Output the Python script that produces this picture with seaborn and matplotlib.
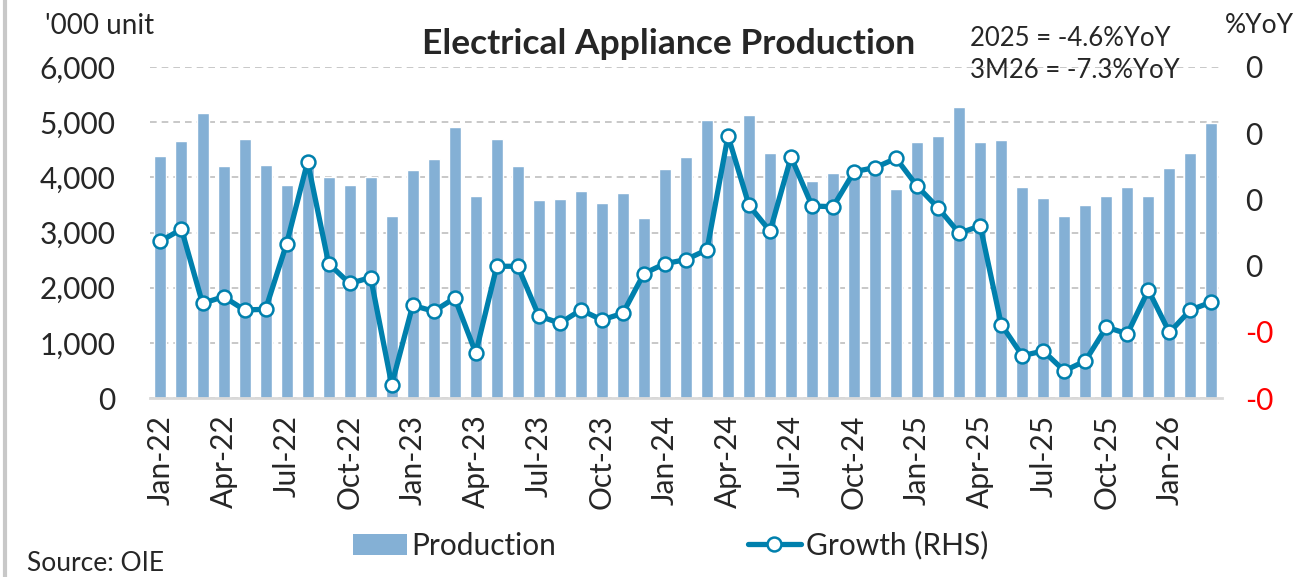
import seaborn as sns
from matplotlib import pyplot as plt
from matplotlib.lines import Line2D
from matplotlib.patches import Patch
import pandas as pd
import numpy as np

sns.set_theme(style='white')
plt.rcParams['font.family'] = ['Lato', 'DejaVu Sans']

months = pd.date_range('2022-01-01', periods=51, freq='MS').strftime('%b-%y').tolist()

production = [4390, 4650, 5160, 4210, 4700, 4225, 3870, 4250, 4010, 3855, 4010, 3300,
              4130, 4335, 4910, 3655, 4695, 4210, 3585, 3610, 3745, 3535, 3715, 3265,
              4145, 4370, 5035, 4400, 5125, 4440, 4300, 3935, 4075, 4150, 4070, 3795,
              4645, 4755, 5280, 4635, 4670, 3830, 3630, 3305, 3495, 3660, 3830, 3655,
              4175, 4435, 4985]

growth = [0.037, 0.055, -0.057, -0.047, -0.067, -0.066, 0.033, 0.157, 0.003, -0.027, -0.018, -0.180,
          -0.060, -0.069, -0.049, -0.132, -0.001, -0.001, -0.076, -0.087, -0.067, -0.082, -0.072, -0.012,
          0.003, 0.009, 0.024, 0.196, 0.091, 0.052, 0.164, 0.090, 0.089, 0.142, 0.148, 0.162,
          0.120, 0.087, 0.049, 0.060, -0.089, -0.136, -0.129, -0.159, -0.144, -0.093, -0.103, -0.037,
          -0.101, -0.067, -0.055]

left_ticks = [0, 1000, 2000, 3000, 4000, 5000, 6000]
right_ticks = [-0.2, -0.1, 0.0, 0.1, 0.2, 0.3]
right_labels = ['-0', '-0', '0', '0', '0', '0']

bar_color = '#84b0d5'
line_color = '#0080ad'

df = pd.DataFrame({'month': months, 'production': production, 'growth': growth,
                   'pos': np.arange(len(months))})

fig = plt.figure(figsize=(12.95, 5.77), dpi=100)
ax = fig.add_axes([0.1158, 0.3102, 0.8278, 0.5737])

sns.barplot(x='month', y='production', data=df, color=bar_color, width=0.57,
            saturation=1, ax=ax)
ax.set_ylim(0, 6000)
ax.set_yticks(left_ticks)
ax.set_yticklabels([f'{v:,}' for v in left_ticks])
ax.yaxis.grid(True, color='#bfbfbf', linestyle=(0, (4, 3)), linewidth=1.2)
ax.set_axisbelow(True)
ax.set_xlabel('')
ax.set_ylabel('')
ax.set_xticks(range(0, len(months), 3))
ax.set_xticklabels(months[::3], rotation=90)
ax.tick_params(axis='x', length=0, pad=12, labelsize=21.5)
ax.tick_params(axis='y', length=0, pad=25, labelsize=21.5)
for s in ['top', 'right', 'left']:
    ax.spines[s].set_visible(False)
ax.spines['bottom'].set_color('#d9d9d9')
ax.spines['bottom'].set_linewidth(2)

ax2 = ax.twinx()
sns.lineplot(x='pos', y='growth', data=df, color=line_color, linewidth=3.8,
             marker='o', markersize=10, markerfacecolor='white',
             markeredgecolor=line_color, markeredgewidth=1.8, ax=ax2)
ax2.set_xlim(-0.5, len(months) - 0.5)
ax2.set_ylim(-0.2, 0.3)
ax2.set_yticks(right_ticks)
ax2.set_yticklabels(right_labels)
ax2.set_xlabel('')
ax2.set_ylabel('')
ax2.tick_params(axis='y', length=0, pad=17, labelsize=21.5)
for lbl, v in zip(ax2.get_yticklabels(), right_ticks):
    if v < 0:
        lbl.set_color('red')
for s in ['top', 'right', 'left', 'bottom']:
    ax2.spines[s].set_visible(False)
ax2.grid(False)

fig.text(0.516, 0.924, 'Electrical Appliance Production', ha='center', va='center',
         fontsize=25.5, fontweight='bold')
fig.text(0.035, 0.955, "'000 unit", ha='left', va='center', fontsize=20)
fig.text(0.946, 0.955, '%YoY', ha='left', va='center', fontsize=19)
fig.text(0.749, 0.934, '2025 = -4.6%YoY', ha='left', va='center', fontsize=18.5)
fig.text(0.749, 0.878, '3M26 = -7.3%YoY', ha='left', va='center', fontsize=18.5)
fig.text(0.021, 0.024, 'Source: OIE', ha='left', va='center', fontsize=19)

handles = [Patch(facecolor=bar_color, edgecolor='none'),
           Line2D([0], [0], color=line_color, linewidth=3.8, marker='o', markersize=10,
                  markerfacecolor='white', markeredgecolor=line_color, markeredgewidth=1.8)]
fig.legend(handles, ['Production', 'Growth (RHS)'], loc='center', ncol=2,
           bbox_to_anchor=(0.518, 0.055), frameon=False, fontsize=21.5,
           handlelength=1.8, handletextpad=0.15, columnspacing=6.4)

fig.add_artist(Line2D([0.004, 0.004], [0, 1], color='#c8c8c8', linewidth=3,
                      transform=fig.transFigure))

plt.savefig('out.png', dpi=100)
